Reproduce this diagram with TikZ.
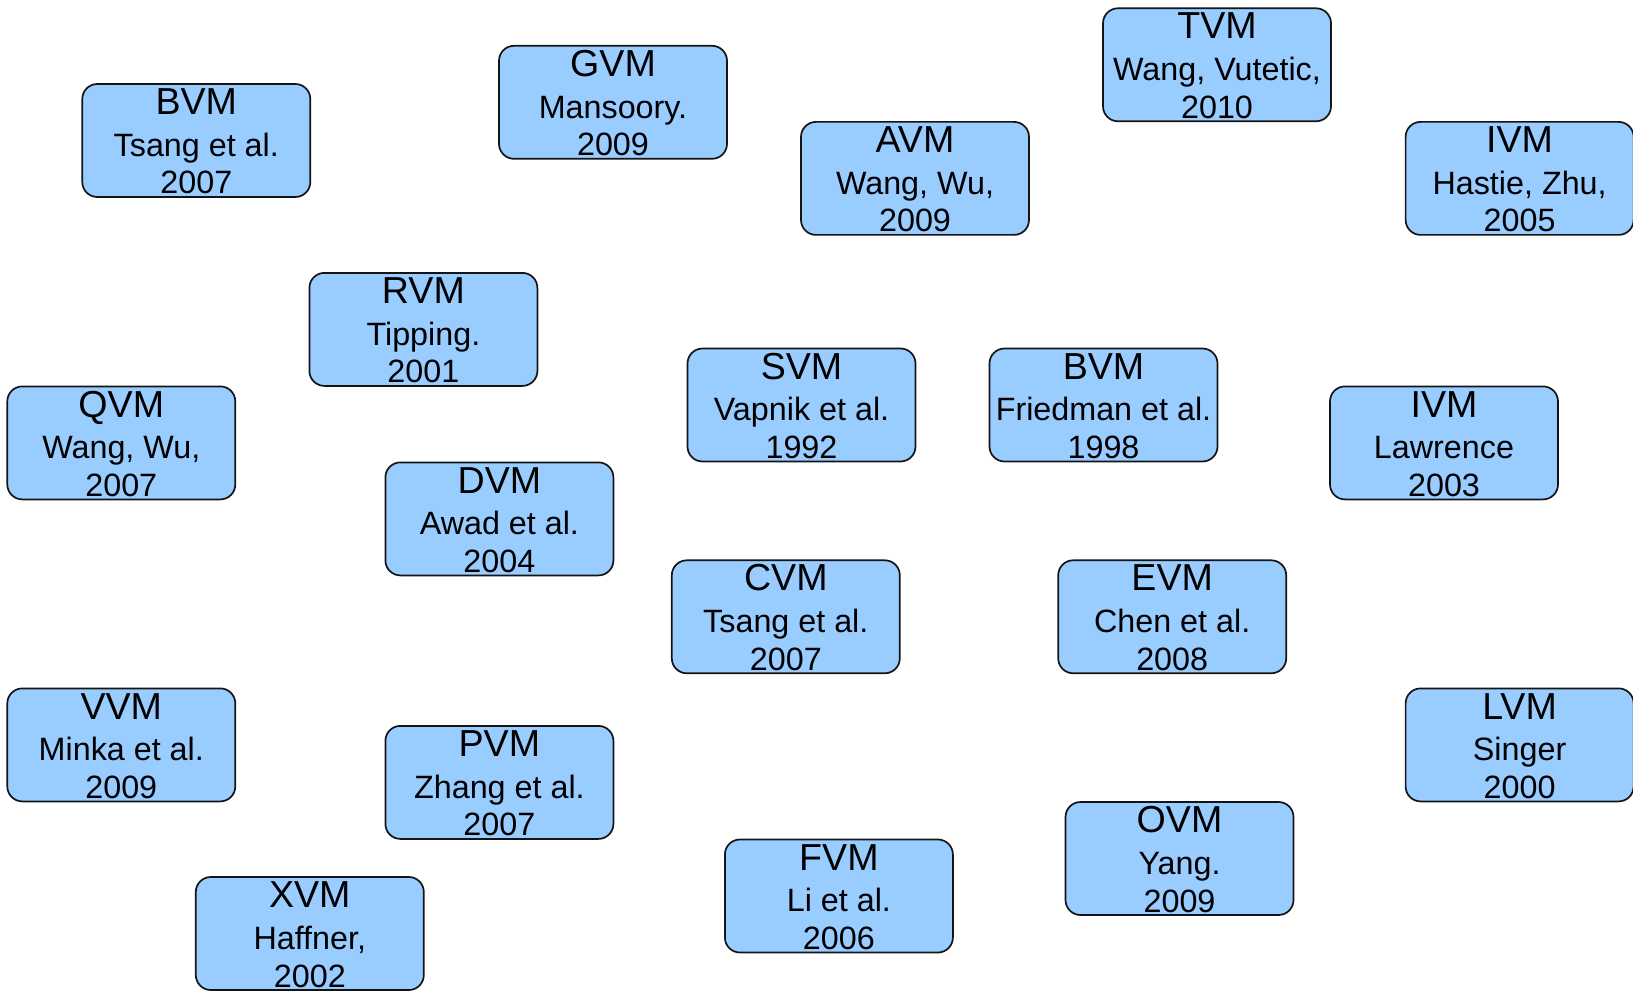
\documentclass[tikz,border=0pt]{standalone}
\usepackage{fontspec}
\setmainfont{Liberation Sans}
\definecolor{vmfill}{RGB}{153,204,255}
\definecolor{vmline}{RGB}{20,20,20}

% Three centred lines with fixed baselines inside a 228 x 113 box
\newcommand\vmtext[3]{%
  \vbox to 113pt{\offinterlineskip\hsize=228pt
    \kern30.6pt
    \hbox to 228pt{\hss\smash{\fontsize{37.6}{37.6}\selectfont #1}\hss}%
    \kern41.8pt
    \hbox to 228pt{\hss\smash{\fontsize{32.3}{32.3}\selectfont #2}\hss}%
    \kern37.6pt
    \hbox to 228pt{\hss\smash{\fontsize{32.3}{32.3}\selectfont #3}\hss}%
    \vss}}

\tikzset{
  vmbox/.style={draw=vmline, fill=vmfill, line width=1.7pt,
    rounded corners=15pt, inner sep=0pt, outer sep=0pt,
    minimum width=228pt, minimum height=113pt}
}

\begin{document}
\begin{tikzpicture}[x=1pt, y=-1pt]
  \useasboundingbox (0,0) rectangle (1633,995);

  \node[vmbox] (bvmA) at (196.3,140.5) {\vmtext{BVM}{Tsang et al.}{2007}};
  \node[vmbox] (gvm)  at (613,102.3)   {\vmtext{GVM}{Mansoory.}{2009}};
  \node[vmbox] (tvm)  at (1217,64.8)   {\vmtext{TVM}{Wang, Vutetic,}{2010}};
  \node[vmbox] (avm)  at (915,178.4)   {\vmtext{AVM}{Wang, Wu,}{2009}};
  \node[vmbox] (ivmA) at (1519.6,178.4) {\vmtext{IVM}{Hastie, Zhu,}{2005}};

  \node[vmbox] (rvm)  at (423.4,329.4) {\vmtext{RVM}{Tipping.}{2001}};
  \node[vmbox] (svm)  at (801.5,405)   {\vmtext{SVM}{Vapnik et al.}{1992}};
  \node[vmbox] (bvmB) at (1103.5,405)  {\vmtext{BVM}{Friedman et al.}{1998}};
  \node[vmbox] (qvm)  at (121.3,442.9) {\vmtext{QVM}{Wang, Wu,}{2007}};
  \node[vmbox] (ivmB) at (1444,442.9)  {\vmtext{IVM}{Lawrence}{2003}};

  \node[vmbox] (dvm)  at (499.4,518.9) {\vmtext{DVM}{Awad et al.}{2004}};
  \node[vmbox] (cvm)  at (785.8,616.8) {\vmtext{CVM}{Tsang et al.}{2007}};
  \node[vmbox] (evm)  at (1172.2,616.8) {\vmtext{EVM}{Chen et al.}{2008}};

  \node[vmbox] (vvm)  at (121.3,744.9) {\vmtext{VVM}{Minka et al.}{2009}};
  \node[vmbox] (lvm)  at (1519.6,744.9) {\vmtext{LVM}{Singer}{2000}};
  \node[vmbox] (pvm)  at (499.4,782.4) {\vmtext{PVM}{Zhang et al.}{2007}};
  \node[vmbox] (ovm)  at (1179.5,858.5) {\vmtext{OVM}{Yang.}{2009}};
  \node[vmbox] (fvm)  at (838.9,896)   {\vmtext{FVM}{Li et al.}{2006}};
  \node[vmbox] (xvm)  at (309.8,933.5) {\vmtext{XVM}{Haffner,}{2002}};
\end{tikzpicture}
\end{document}
